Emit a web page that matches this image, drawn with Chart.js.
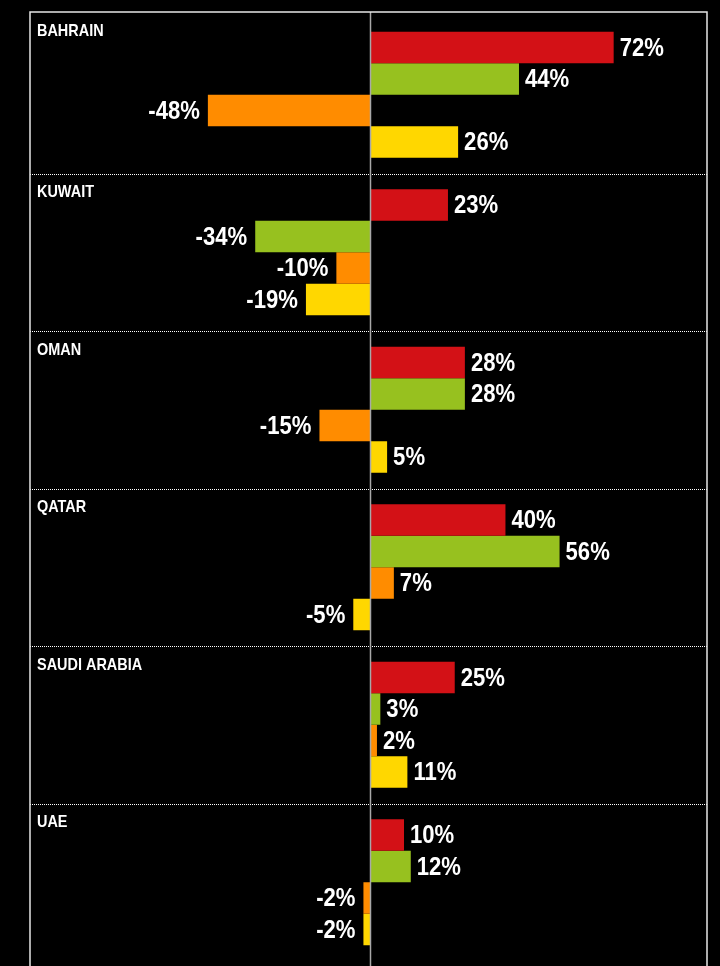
<!DOCTYPE html>
<html>
<head>
<meta charset="utf-8">
<title>GCC change by country</title>
<script src="https://cdn.jsdelivr.net/npm/chart.js@4/dist/chart.umd.min.js"></script>
<style>
    html, body { margin: 0; padding: 0; background: #000; }
    #wrap { width: 720px; height: 966px; position: relative; }
</style>
</head>
<body>
<div id="wrap"><canvas id="gccChart"></canvas></div>
<script>
// Chart data
const categories = ['BAHRAIN', 'KUWAIT', 'OMAN', 'QATAR', 'SAUDI ARABIA', 'UAE'];
const redValues = [72, 23, 28, 40, 25, 10];
const greenValues = [44, -34, 28, 56, 3, 12];
const orangeValues = [-48, -10, -15, 7, 2, -2];
const yellowValues = [26, -19, 5, -5, 11, -2];

const FONT = '"Liberation Sans", Arial, sans-serif';
const SQUEEZE = 0.85; // fake a condensed face

// draw condensed text by scaling horizontally
function condensedText(ctx, text, x, y, align) {
    ctx.save();
    ctx.translate(x, y);
    ctx.scale(SQUEEZE, 1);
    ctx.textAlign = align;
    ctx.fillText(text, 0, 0);
    ctx.restore();
}

/**
 * Frame, group separators, group names, zero line and value labels
 */
const decorPlugin = {
    id: 'decor',
    beforeDatasetsDraw(chart) {
        const { ctx, chartArea } = chart;
        const h = (chartArea.bottom - chartArea.top) / categories.length;
        ctx.save();

        // dotted separators between countries
        ctx.strokeStyle = '#ffffff';
        ctx.lineWidth = 1;
        ctx.setLineDash([1, 1]);
        for (let i = 1; i < categories.length; i++) {
            const y = Math.round(chartArea.top + i * h) + 0.5;
            ctx.beginPath();
            ctx.moveTo(chartArea.left, y);
            ctx.lineTo(chartArea.right, y);
            ctx.stroke();
        }
        ctx.setLineDash([]);

        // country names
        ctx.fillStyle = '#ffffff';
        ctx.font = 'bold 17px ' + FONT;
        ctx.textBaseline = 'middle';
        categories.forEach((name, i) => {
            const top = i === 0 ? chartArea.top - 4 : chartArea.top + i * h;
            condensedText(ctx, name, chartArea.left + 7, top + 19, 'left');
        });
        ctx.restore();
    },
    afterDatasetsDraw(chart) {
        const { ctx, chartArea, scales } = chart;
        const frameTop = chartArea.top - 4;
        ctx.save();

        // zero line
        const x0 = Math.round(scales.x.getPixelForValue(0)) + 0.5;
        ctx.strokeStyle = '#a8a8a8';
        ctx.lineWidth = 1.5;
        ctx.beginPath();
        ctx.moveTo(x0, frameTop);
        ctx.lineTo(x0, chart.height);
        ctx.stroke();

        // outer frame (top, left, right)
        ctx.strokeStyle = '#e6e6e6';
        ctx.lineWidth = 1.5;
        ctx.beginPath();
        ctx.moveTo(chartArea.left, chart.height);
        ctx.lineTo(chartArea.left, frameTop);
        ctx.lineTo(chartArea.right, frameTop);
        ctx.lineTo(chartArea.right, chart.height);
        ctx.stroke();

        // value labels
        ctx.fillStyle = '#ffffff';
        ctx.font = 'bold 26px ' + FONT;
        ctx.textBaseline = 'middle';
        chart.data.datasets.forEach((ds, di) => {
            const meta = chart.getDatasetMeta(di);
            meta.data.forEach((bar, i) => {
                const v = ds.data[i];
                const text = v + '%';
                if (v >= 0) {
                    condensedText(ctx, text, bar.x + 6, bar.y + 1, 'left');
                } else {
                    condensedText(ctx, text, bar.x - 8, bar.y + 1, 'right');
                }
            });
        });
        ctx.restore();
    }
};

new Chart(document.getElementById('gccChart'), {
    type: 'bar',
    data: {
        labels: categories,
        datasets: [
            { label: 'Red', data: redValues, backgroundColor: '#d31116' },
            { label: 'Green', data: greenValues, backgroundColor: '#97c11f' },
            { label: 'Orange', data: orangeValues, backgroundColor: '#ff8c00' },
            { label: 'Yellow', data: yellowValues, backgroundColor: '#ffd700' }
        ]
    },
    options: {
        indexAxis: 'y',
        responsive: true,
        maintainAspectRatio: false,
        animation: false,
        layout: {
            padding: { top: 16, left: 30, right: 13, bottom: 5 }
        },
        datasets: {
            bar: {
                categoryPercentage: 0.8,
                barPercentage: 1.0,
                borderWidth: 0
            }
        },
        plugins: {
            legend: { display: false },
            tooltip: { enabled: false }
        },
        scales: {
            x: {
                display: false,
                min: -100.6,
                max: 99.6
            },
            y: {
                display: false,
                offset: true
            }
        }
    },
    plugins: [decorPlugin]
});
</script>
</body>
</html>
